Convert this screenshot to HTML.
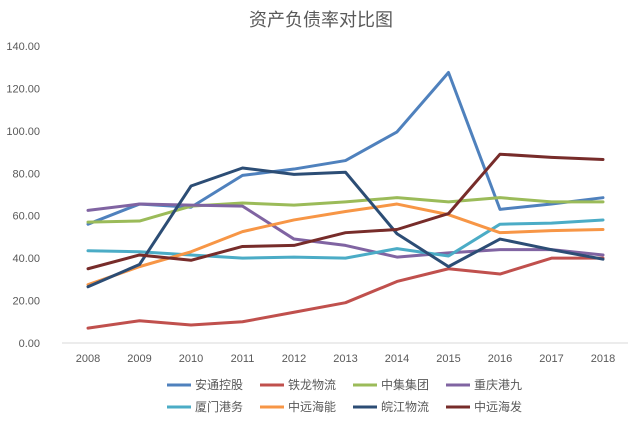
<!DOCTYPE html>
<html><head><meta charset="utf-8">
<style>
body{margin:0;background:#fff;font-family:"Liberation Sans","Noto Sans CJK SC",sans-serif;}
svg text{font-family:"Liberation Sans","Noto Sans CJK SC",sans-serif;}
</style></head>
<body>
<svg id="chart" width="642" height="422" viewBox="0 0 642 422" xmlns="http://www.w3.org/2000/svg">
<rect width="642" height="422" fill="#fff"/>
<text x="321" y="26" text-anchor="middle" font-size="18" fill="#595959">资产负债率对比图</text>
<g id="grid"></g><g id="axes"></g><g id="series"></g><g id="legend"></g>
</svg>
<script>
const years=["2008","2009","2010","2011","2012","2013","2014","2015","2016","2017","2018"];
const yTicks=[0,20,40,60,80,100,120,140];
const names=["安通控股","铁龙物流","中集集团","重庆港九","厦门港务","中远海能","皖江物流","中远海发"];
const colors=["#4f81bd","#c0504d","#9bbb59","#8064a2","#4bacc6","#f79646","#2c4d75","#772c2a"];
const s0=[56,65.5,64,79,82,86,99.5,127.5,63,65.5,68.5];
const s1=[7,10.5,8.5,10,14.5,19,29,35,32.5,40,40];
const s2=[57,57.5,64.5,66,65,66.5,68.5,66.5,68.5,66.5,66.5];
const s3=[62.5,65.5,65,64.5,49,46,40.5,42.5,44,44,41.5];
const s4=[43.5,43,41.5,40,40.5,40,44.5,41,56,56.5,58];
const s5=[27.5,36,43,52.5,58,62,65.5,60.5,52,53,53.5];
const s6=[26.5,37,74,82.5,79.5,80.5,51.5,36,49,44,39.5];
const s7=[35,41.5,39,45.5,46,52,53.5,61,89,87.5,86.5];
const series=[s0,s1,s2,s3,s4,s5,s6,s7];
const NS="http://www.w3.org/2000/svg";
const x=i=>88+i*51.5;
const y=v=>343-v*(297/140);
function mk(t,a,p){const e=document.createElementNS(NS,t);for(const k in a)e.setAttribute(k,a[k]);p.appendChild(e);return e;}
const axes=document.getElementById('axes');
yTicks.forEach(v=>{
 const t=mk('text',{x:40,y:y(v)+4,'text-anchor':'end','font-size':'11',fill:'#595959'},axes);
 t.textContent=v.toFixed(2);
 
 
});
const bl=mk('line',{x1:62,x2:628,y1:343,y2:343,stroke:'#d9d9d9','stroke-width':1},axes);


years.forEach((yr,i)=>{
 const t=mk('text',{x:x(i),y:362,'text-anchor':'middle','font-size':'11',fill:'#595959'},axes);
 t.textContent=yr;
 
 
});
const sg=document.getElementById('series');
series.forEach((d,k)=>{
 const p=mk('polyline',{points:d.map((v,i)=>x(i)+','+y(v)).join(' '),fill:'none',stroke:colors[k],'stroke-width':3,'stroke-linejoin':'round','stroke-linecap':'round'},sg);
 
 
});
const lg=document.getElementById('legend');
names.forEach((n,k)=>{
 const lx=167+(k%4)*93, ly=k<4?385:407;
 const g=mk('g',{},lg);
 
 
 mk('line',{x1:lx,x2:lx+24,y1:ly,y2:ly,stroke:colors[k],'stroke-width':3},g);
 const t=mk('text',{x:lx+28,y:ly+4,'font-size':'12',fill:'#595959'},g);
 t.textContent=n;
});
</script>
</body></html>
